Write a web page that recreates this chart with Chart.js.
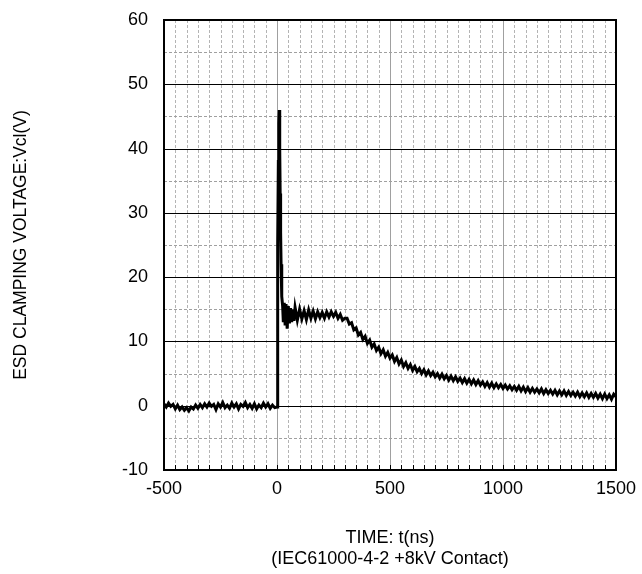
<!DOCTYPE html>
<html>
<head>
<meta charset="utf-8">
<script src="https://cdn.jsdelivr.net/npm/chart.js@4/dist/chart.umd.min.js"></script>
<style>
  html, body { margin: 0; padding: 0; background: #fff; }
  #wrap { width: 642px; height: 574px; }
</style>
</head>
<body>
<div id="wrap"><canvas id="myChart"></canvas></div>
<script>
// time axis (ns) and clamping voltage (V)
const timeNs = [
  -500,-490,-480,-470,-460,-450,-440,-430,-420,-410,
  -400,-390,-380,-370,-360,-350,-340,-330,-320,-310,
  -300,-290,-280,-270,-260,-250,-240,-230,-220,-210,
  -200,-190,-180,-170,-160,-150,-140,-130,-120,-110,
  -100,-90,-80,-70,-60,-50,-40,-30,-20,-10,
  0,2,4,6,8,10,12,14,16,18,20,22,25,28,32,36,40,45,50,55,60,65,70,75,80,
  90,100,110,120,130,140,150,160,170,180,190,200,210,220,230,240,250,260,270,280,290,300,
  310,320,330,340,350,360,370,380,390,400,410,420,430,440,450,460,470,480,490,500,
  510,520,530,540,550,560,570,580,590,600,610,620,630,640,650,660,670,680,690,700,
  710,720,730,740,750,760,770,780,790,800,810,820,830,840,850,860,870,880,890,900,
  910,920,930,940,950,960,970,980,990,1000,1010,1020,1030,1040,1050,1060,1070,1080,1090,1100,
  1110,1120,1130,1140,1150,1160,1170,1180,1190,1200,1210,1220,1230,1240,1250,1260,1270,1280,1290,1300,
  1310,1320,1330,1340,1350,1360,1370,1380,1390,1400,1410,1420,1430,1440,1450,1460,1470,1480,1490,1500
];
const vclamp = [
  0.3,-0.2,0.4,-0.1,0.2,-0.5,0.1,-0.6,-0.2,-0.7,
  -0.3,-0.8,-0.2,-0.5,0.1,-0.4,0.2,-0.3,0.3,-0.2,
  0.4,-0.1,0.2,-0.6,0.3,-0.2,0.5,-0.3,0.1,-0.4,
  0.4,-0.2,0.3,-0.5,0.2,-0.1,0.5,-0.3,0.2,-0.4,
  0.3,-0.5,0.1,-0.3,0.4,-0.2,0.3,-0.4,0.1,-0.3,
  -0.2,10,25,38,44,46,40,33,27,22,19,17,15.5,13,16,12.5,15.8,12,15.5,12.8,15.2,13,15,13.2,15.3,
  13.3,15,13.5,14.8,13.4,14.9,13.6,14.7,13.5,14.6,13.7,14.5,13.6,14.6,13.8,14.6,13.9,14.5,13.6,14.2,13.3,13.6,
  13.6,12.7,12.9,11.8,12.1,11.0,11.4,10.3,10.8,9.7,10.2,9.1,9.6,8.6,9.1,8.1,8.7,7.7,8.3,7.4,
  7.9,6.9,7.5,6.5,7.1,6.1,6.7,5.8,6.4,5.5,6.1,5.3,5.8,5.0,5.6,4.8,5.4,4.7,5.2,4.5,
  5.0,4.3,4.9,4.2,4.7,4.0,4.6,3.9,4.5,3.8,4.3,3.6,4.2,3.5,4.1,3.4,4.0,3.3,3.9,3.2,
  3.7,3.0,3.6,2.9,3.5,2.8,3.4,2.8,3.3,2.7,3.2,2.6,3.1,2.5,3.0,2.4,3.0,2.3,2.9,2.2,
  2.8,2.1,2.7,2.1,2.6,2.0,2.6,1.9,2.5,1.9,2.4,1.8,2.4,1.7,2.3,1.7,2.3,1.6,2.2,1.6,
  2.1,1.5,2.1,1.4,2.0,1.4,2.0,1.3,1.9,1.3,1.9,1.2,1.8,1.1,1.8,1.1,1.7,1.0,1.8,1.4
];
const xMin = -500, xMax = 1500, xMajor = 500, xMinor = 50;
const yMin = -10, yMax = 60, yMajor = 10, yMinor = 5;

const points = timeNs.map((t, i) => ({ x: t, y: vclamp[i] }));
const FONT = "'Liberation Sans', Arial, sans-serif";

// dashed minor / solid major grid + frame, drawn through the chart scales
const scopeGrid = {
  id: 'scopeGrid',
  beforeDatasetsDraw(chart) {
    const { ctx, chartArea: a, scales: { x, y } } = chart;
    ctx.save();
    ctx.lineWidth = 1;
    for (let v = xMin + xMinor; v < xMax; v += xMinor) {
      const px = Math.round(x.getPixelForValue(v)) + 0.5;
      ctx.beginPath();
      if (v % xMajor === 0) { ctx.setLineDash([]); ctx.strokeStyle = '#a0a0a0'; }
      else { ctx.setLineDash([3, 2]); ctx.strokeStyle = '#b4b4b4'; }
      ctx.moveTo(px, a.top); ctx.lineTo(px, a.bottom); ctx.stroke();
      // small inside tick at bottom
      ctx.setLineDash([]); ctx.strokeStyle = '#000';
      ctx.beginPath(); ctx.moveTo(px, a.bottom); ctx.lineTo(px, a.bottom - 5); ctx.stroke();
    }
    for (let v = yMin + yMinor; v < yMax; v += yMinor) {
      const py = Math.round(y.getPixelForValue(v)) + 0.5;
      ctx.beginPath();
      if (v % yMajor === 0) { ctx.setLineDash([]); ctx.strokeStyle = '#000'; }
      else { ctx.setLineDash([3, 2]); ctx.strokeStyle = '#a0a0a0'; }
      ctx.moveTo(a.left, py); ctx.lineTo(a.right, py); ctx.stroke();
    }
    ctx.setLineDash([]);
    ctx.strokeStyle = '#000';
    ctx.lineWidth = 2;
    ctx.strokeRect(a.left, a.top, a.right - a.left, a.bottom - a.top);
    ctx.restore();
  }
};

new Chart(document.getElementById('myChart'), {
  type: 'line',
  data: {
    datasets: [{
      data: points,
      borderColor: '#000',
      borderWidth: 3,
      pointRadius: 0,
      tension: 0
    }]
  },
  options: {
    responsive: true,
    maintainAspectRatio: false,
    animation: false,
    layout: { padding: { top: 20, right: 26, left: 0, bottom: 0 } },
    plugins: { legend: { display: false }, tooltip: { enabled: false } },
    scales: {
      x: {
        type: 'linear', min: xMin, max: xMax,
        ticks: {
          stepSize: xMajor, color: '#000', font: { family: FONT, size: 18 }, maxRotation: 0, padding: 0,
          callback: v => String(v)
        },
        grid: { display: false },
        border: { display: false },
        title: {
          display: true,
          text: ['TIME: t(ns)', '(IEC61000-4-2 +8kV Contact)'],
          color: '#000', font: { family: FONT, size: 18, lineHeight: 1.2 }, padding: { top: 8 }
        },
        afterFit(s) { s.height = 104; }
      },
      y: {
        min: yMin, max: yMax,
        ticks: { stepSize: yMajor, color: '#000', font: { family: FONT, size: 18 }, padding: 8 },
        grid: { display: false },
        border: { display: false },
        title: {
          display: true, text: 'ESD CLAMPING VOLTAGE:Vcl(V)',
          color: '#000', font: { family: FONT, size: 17.5 }, padding: { top: 11, bottom: 4 }
        },
        afterFit(s) { s.width = 164; }
      }
    }
  },
  plugins: [scopeGrid]
});
</script>
</body>
</html>
